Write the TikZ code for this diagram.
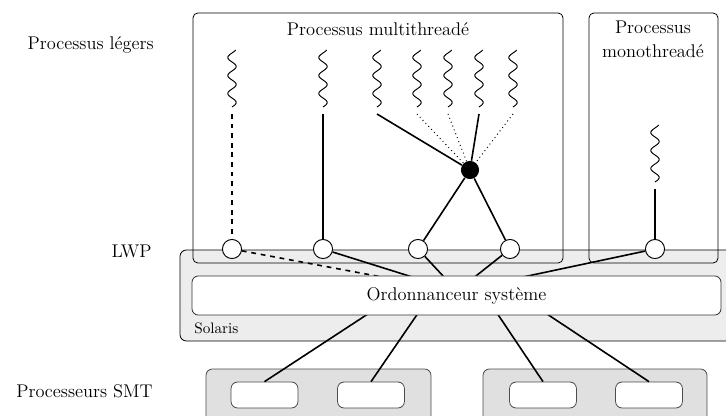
\documentclass[tikz,border=0pt]{standalone}
\usepackage{tikz}
\tikzset{
	rowlabel/.style = {anchor=east, inner sep=0pt},
	procbox/.style = {draw=black, line width=0.5pt, rounded corners=3pt},
	solarisbox/.style = {draw=black, line width=0.5pt, fill=black!7, rounded corners=4pt},
	cpubox/.style = {draw=black!70, line width=0.5pt, fill=black!12, rounded corners=4pt},
	core/.style = {draw=black!70, line width=0.5pt, fill=white, rounded corners=4pt, minimum width=1.47cm, minimum height=0.57cm},
	ordo/.style = {draw=black!80, line width=0.5pt, fill=white, rounded corners=4pt, minimum width=11.64cm, minimum height=0.86cm},
	lwp/.style = {circle, draw=black, fill=white, line width=0.6pt, minimum size=0.42cm, inner sep=0pt},
	hub/.style = {circle, fill=black, minimum size=0.4cm, inner sep=0pt},
	link/.style = {line width=1pt},
	thread/.pic = {\draw[line width=0.6pt] plot[smooth, domain=0:57, samples=60] ({4.2*sin(\x*20+120)}, \x);}
}

\begin{document}
\begin{tikzpicture}[x=0.022cm, y=-0.022cm, font=\fontsize{11.5}{15}\selectfont]
	\useasboundingbox (0,0) rectangle (726,416);
	\node [rowlabel] (lbl1) at (154,45) {Processus légers};
	\node [rowlabel] (lbl2) at (152,251) {LWP};
	\node [rowlabel] (lbl3) at (153,391) {Processeurs SMT};

	\draw [solarisbox] (180,250) rectangle (760,341);
	\node [anchor=west, inner sep=0pt, font=\fontsize{9.5}{11}\selectfont] (solaris) at (194,328) {Solaris};
	\draw [procbox] (193,13) rectangle (563,263);
	\draw [procbox] (589,13) rectangle (718,263);
	\node (multi) at (378,29) {Processus multithreadé};
	\node [align=center] (mono) at (653,39) {Processus\\monothreadé};

	\draw [cpubox] (206,369) rectangle (431,440);
	\draw [cpubox] (483,369) rectangle (707,440);
	\foreach \n/\x in {1/264.5,2/371,3/543,4/649}
		\node [core] (c\n) at (\x,395) {};

	\coordinate (up) at (457,291);
	\coordinate (down) at (458,255);
	\begin{scope}
		\clip (0,290) rectangle (726,416);
		\foreach \n in {1,...,4}
			\draw [link] (c\n.north) -- (down);
	\end{scope}

	\foreach \n/\x in {1/232,2/323,3/418,4/510,m/655}
		\node [lwp] (lwp\n) at (\x,249) {};
	\draw [link, dashed] (lwp1) -- (up);
	\foreach \n in {2,3,4,m}
		\draw [link] (lwp\n) -- (up);
	\node [ordo] (ordo) at (456.5,295.5) {Ordonnanceur système};

	\foreach \n/\x in {1/232,2/323,3/377,4/417,5/448,6/479,7/513} {
		\pic at (\x,50) {thread};
		\coordinate (t\n) at (\x,114);
	}
	\pic at (655,125) {thread};
	\coordinate (tm) at (655,189);
	\node [hub] (dot) at (470,170) {};

	\draw [link, dashed] (t1) -- (lwp1);
	\draw [link] (t2) -- (lwp2);
	\draw [link] (t3) -- (dot);
	\draw [link] (t6) -- (dot);
	\foreach \n in {4,5,7}
		\draw [line width=0.6pt, dotted] (t\n) -- (dot);
	\draw [link] (dot) -- (lwp3);
	\draw [link] (dot) -- (lwp4);
	\draw [link] (tm) -- (lwpm);
\end{tikzpicture}
\end{document}
